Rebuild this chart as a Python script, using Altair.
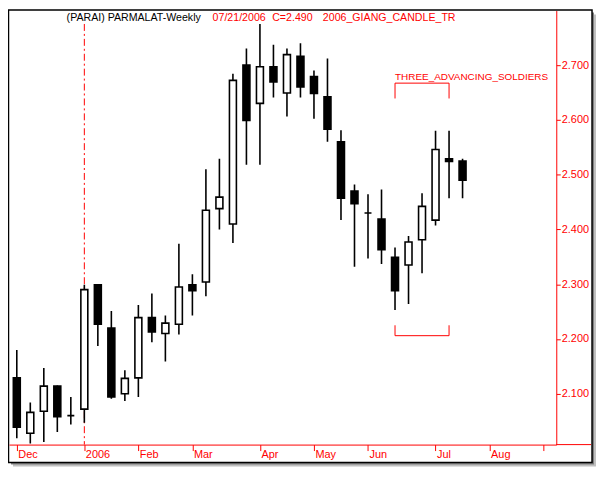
import altair as alt
import pandas as pd

# ---- data ----
week_idx = list(range(34))
opens  = [2.129, 2.028, 2.068, 2.114, 2.060, 2.072, 2.299, 2.220, 2.100, 2.129,
          2.239, 2.210, 2.227, 2.299, 2.304, 2.438, 2.410, 2.700, 2.630, 2.697,
          2.649, 2.716, 2.679, 2.642, 2.560, 2.470, 2.430, 2.419, 2.349, 2.335,
          2.381, 2.417, 2.529, 2.525]
highs  = [2.180, 2.084, 2.147, 2.115, 2.094, 2.299, 2.300, 2.251, 2.143, 2.262,
          2.283, 2.243, 2.374, 2.318, 2.510, 2.529, 2.684, 2.730, 2.775, 2.737,
          2.730, 2.740, 2.690, 2.712, 2.581, 2.482, 2.464, 2.473, 2.367, 2.388,
          2.466, 2.580, 2.580, 2.529]
lows   = [2.019, 2.009, 2.012, 2.030, 2.044, 2.047, 2.187, 2.091, 2.087, 2.094,
          2.194, 2.159, 2.208, 2.243, 2.278, 2.400, 2.375, 2.518, 2.518, 2.641,
          2.606, 2.641, 2.602, 2.560, 2.417, 2.332, 2.347, 2.337, 2.253, 2.264,
          2.320, 2.407, 2.457, 2.457]
closes = [2.039, 2.066, 2.114, 2.058, 2.060, 2.290, 2.227, 2.094, 2.128, 2.239,
          2.213, 2.229, 2.295, 2.288, 2.435, 2.459, 2.672, 2.599, 2.697, 2.669,
          2.719, 2.660, 2.648, 2.583, 2.457, 2.447, 2.430, 2.363, 2.288, 2.377,
          2.442, 2.546, 2.524, 2.490]

month_ticks = [0, 5, 9, 13, 18, 22, 26, 31, 35, 39]
month_labels = ["Dec", "2006", "Feb", "Mar", "Apr", "May", "Jun", "Jul", "Aug", ""]
price_ticks = [2.1, 2.2, 2.3, 2.4, 2.5, 2.6, 2.7]

year_mark_idx = [5]
pattern_start, pattern_end = 28, 32
pattern_name = ["THREE_ADVANCING_SOLDIERS"]

# ---- layout ----
W, H = 551, 437
RED = "#ff0000"
FONT = "Liberation Sans"
x_dom = [-0.21, 39.57]
y_dom = [2.0072, 2.7995]

df = pd.DataFrame({"i": week_idx, "open": opens, "high": highs,
                   "low": lows, "close": closes})
df["fill"] = ["black" if c <= o else "white" for o, c in zip(opens, closes)]

xs = alt.Scale(domain=x_dom, nice=False, zero=False)
ys = alt.Scale(domain=y_dom, nice=False, zero=False)

one = pd.DataFrame({"a": [0]})

shadow_light = alt.Chart(one).mark_rect(fill="#c0c0c0").encode(
    x=alt.value(4), x2=alt.value(591), y=alt.value(4), y2=alt.value(459))
shadow_dark = alt.Chart(one).mark_rect(fill="#808080").encode(
    x=alt.value(2), x2=alt.value(589), y=alt.value(2), y2=alt.value(457))
frame = alt.Chart(one).mark_rect(fill="white", stroke="black", strokeWidth=1.5).encode(
    x=alt.value(-0.5), x2=alt.value(587), y=alt.value(-0.5), y2=alt.value(455))

x_axis = alt.Axis(
    values=month_ticks,
    labelExpr="[" + ",".join("'%s'" % m for m in month_labels) + "][indexof([" +
              ",".join(str(t) for t in month_ticks) + "], datum.value)]",
    orient="bottom", title=None, grid=False,
    domainColor=RED, domainWidth=1, tickColor=RED, tickSize=6, tickWidth=1,
    labelColor=RED, labelFont=FONT, labelFontSize=11, labelAlign="left",
    labelBaseline="top", labelPadding=-2, labelOffset=1, labelFlush=False,
    labelOverlap=False, zindex=1)
y_axis = alt.Axis(
    values=price_ticks, format=".3f", orient="right", title=None, grid=False,
    domainColor=RED, domainWidth=1, tickColor=RED, tickSize=4, tickWidth=1,
    labelColor=RED, labelFont=FONT, labelFontSize=11, labelPadding=1,
    labelBaseline="middle", labelFlush=False, labelOverlap=False, zindex=1)


def X(field):
    return alt.X(field, scale=xs, axis=x_axis, title=None)


def Y(field):
    return alt.Y(field, scale=ys, axis=y_axis, title=None)


year_df = pd.DataFrame({"i": year_mark_idx, "top": [2.775], "bot": [y_dom[0]]})
year_line = alt.Chart(year_df).mark_rule(color=RED, strokeWidth=1,
                                         strokeDash=[7, 3, 2, 3]).encode(
    x=X("i:Q"), y=Y("top:Q"), y2="bot:Q")

wicks = alt.Chart(df).mark_rule(color="black", strokeWidth=1.6, clip=True).encode(
    x=X("i:Q"), y=Y("low:Q"), y2="high:Q")

bodies = alt.Chart(df).mark_bar(size=7, stroke="black", strokeWidth=1.6,
                                clip=True).encode(
    x=X("i:Q"), y=Y("open:Q"), y2="close:Q",
    fill=alt.Fill("fill:N", scale=None))

# pattern annotation brackets
br_h = pd.DataFrame({"x1": [pattern_start, pattern_start], "x2": [pattern_end, pattern_end],
                     "y": [2.667, 2.206]})
br_v = pd.DataFrame({"i": [pattern_start, pattern_end, pattern_start, pattern_end],
                     "y1": [2.667, 2.667, 2.206, 2.206],
                     "y2": [2.639, 2.639, 2.225, 2.225]})
brackets_h = alt.Chart(br_h).mark_rule(color=RED, strokeWidth=1).encode(
    x=X("x1:Q"), x2="x2:Q", y=Y("y:Q"))
brackets_v = alt.Chart(br_v).mark_rule(color=RED, strokeWidth=1).encode(
    x=X("i:Q"), y=Y("y1:Q"), y2="y2:Q")
pat_df = pd.DataFrame({"i": [pattern_start], "y": [2.672], "t": pattern_name})
pat_text = alt.Chart(pat_df).mark_text(color=RED, font=FONT, fontSize=10,
                                       align="left", baseline="alphabetic").encode(
    x=X("i:Q"), y=Y("y:Q"), text="t:N")

# header texts
hdr = pd.DataFrame({"t": ["(PARAI) PARMALAT-Weekly", "07/21/2006", "C=2.490",
                          "2006_GIANG_CANDLE_TR"],
                    "px": [58, 205, 265, 316],
                    "c": ["black", RED, RED, RED]})
header = alt.Chart(hdr).mark_text(font=FONT, fontSize=10.7, align="left",
                                  baseline="alphabetic").encode(
    x=alt.X("px:Q", scale=None), y=alt.value(11), text="t:N",
    color=alt.Color("c:N", scale=None))

axis_ext = alt.Chart(one).mark_rule(color=RED, strokeWidth=1).encode(
    x=alt.value(W), x2=alt.value(586), y=alt.value(H))

chart = alt.layer(
    shadow_light, shadow_dark, frame, year_line, wicks, bodies,
    brackets_h, brackets_v, pat_text, header, axis_ext
).properties(
    width=W, height=H,
    autosize=alt.AutoSizeParams(type="none"),
    padding={"left": 1, "top": 1, "right": 40, "bottom": 22},
    background="white"
).configure_view(stroke=None)

chart.save("out.html", embed_options={"renderer": "svg", "actions": False})
